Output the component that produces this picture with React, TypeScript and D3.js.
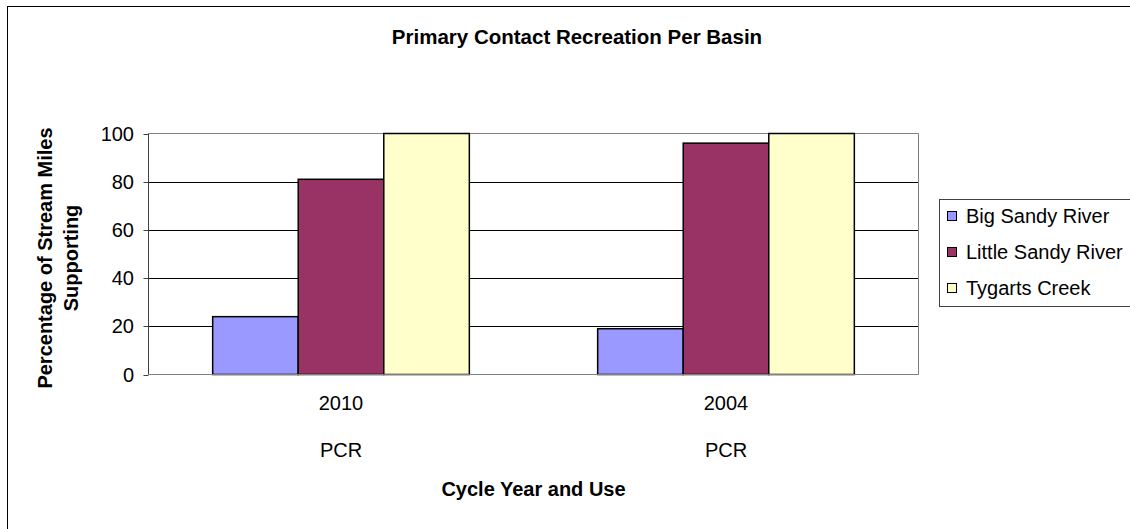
import React from 'react';
import * as d3 from 'd3';

const width = 1130;
const height = 529;

// chart values
const cycles = ['2010', '2004'];
const uses = ['PCR', 'PCR'];
const basins = ['Big Sandy River', 'Little Sandy River', 'Tygarts Creek'];
const bigSandy = [24, 19];
const littleSandy = [81, 96];
const tygarts = [100, 100];
const yTicks = [0, 20, 40, 60, 80, 100];
const colors = ['#9999FF', '#993366', '#FFFFCC'];

const plot = { left: 148.5, right: 918.5, top: 133.5, bottom: 374.5 };
const font = 'Arial, "Liberation Sans", sans-serif';

function App() {
  const series = [bigSandy, littleSandy, tygarts];

  const x0 = d3.scaleBand().domain(cycles).range([plot.left, plot.right]).padding(0);
  const x1 = d3.scaleBand().domain(basins).range([0, x0.bandwidth()]).paddingInner(0).paddingOuter(0.75);
  const y = d3.scaleLinear().domain([0, 100]).range([plot.bottom, plot.top]);
  const color = d3.scaleOrdinal<string, string>().domain(basins).range(colors);

  return (
    <svg width={width} height={height} style={{ position: 'absolute', left: 0, top: 0, background: '#fff' }}>
      {/* outer chart border */}
      <rect x={7.5} y={6.5} width={1200} height={600} fill="#fff" stroke="#000" strokeWidth={1} />

      <text x={577} y={44} textAnchor="middle" fontFamily={font} fontSize={20.5} fontWeight="bold">
        Primary Contact Recreation Per Basin
      </text>

      {/* gridlines */}
      {yTicks.filter(t => t > 0 && t < 100).map(t => (
        <line key={t} x1={plot.left} x2={plot.right} y1={Math.round(y(t)) + 0.5} y2={Math.round(y(t)) + 0.5} stroke="#000" />
      ))}
      {/* plot frame */}
      <line x1={plot.left} x2={plot.right} y1={plot.top} y2={plot.top} stroke="#808080" />
      <line x1={plot.right} x2={plot.right} y1={plot.top} y2={plot.bottom} stroke="#808080" />

      {/* bars */}
      {cycles.map((c, i) => (
        <g key={c} transform={`translate(${x0(c)},0)`}>
          {basins.map((b, j) => (
            <rect
              key={b}
              x={x1(b)}
              y={y(series[j][i])}
              width={x1.bandwidth()}
              height={y(0) - y(series[j][i])}
              fill={color(b)}
              stroke="#000"
              strokeWidth={1.5}
            />
          ))}
        </g>
      ))}

      {/* axes */}
      <line x1={plot.left} x2={plot.right} y1={plot.bottom} y2={plot.bottom} stroke="#808080" />
      <line x1={plot.left} x2={plot.left} y1={plot.top} y2={plot.bottom} stroke="#404040" />
      {yTicks.map(t => (
        <g key={t}>
          <line x1={plot.left - 5} x2={plot.left} y1={Math.round(y(t)) + 0.5} y2={Math.round(y(t)) + 0.5} stroke="#404040" />
          <text x={134} y={y(t)} dy="0.35em" textAnchor="end" fontFamily={font} fontSize={20}>
            {t}
          </text>
        </g>
      ))}

      {cycles.map((c, i) => (
        <g key={c}>
          <text x={(x0(c) as number) + x0.bandwidth() / 2} y={410} textAnchor="middle" fontFamily={font} fontSize={20}>
            {c}
          </text>
          <text x={(x0(c) as number) + x0.bandwidth() / 2} y={457} textAnchor="middle" fontFamily={font} fontSize={20}>
            {uses[i]}
          </text>
        </g>
      ))}

      <text x={(plot.left + plot.right) / 2} y={496} textAnchor="middle" fontFamily={font} fontSize={20} fontWeight="bold">
        Cycle Year and Use
      </text>

      <text transform="translate(51.5,258) rotate(-90)" textAnchor="middle" fontFamily={font} fontSize={20} fontWeight="bold">
        Percentage of Stream Miles
      </text>
      <text transform="translate(78,258) rotate(-90)" textAnchor="middle" fontFamily={font} fontSize={20} fontWeight="bold">
        Supporting
      </text>

      {/* legend */}
      <rect x={939.5} y={199.5} width={250} height={107} fill="#fff" stroke="#404040" />
      {basins.map((b, j) => (
        <g key={b} transform={`translate(0,${216 + j * 36})`}>
          <rect x={947.5} y={-4.5} width={9} height={9} fill={color(b)} stroke="#000" />
          <text x={966} y={0} dy="0.35em" fontFamily={font} fontSize={20}>
            {b}
          </text>
        </g>
      ))}
    </svg>
  );
}

export default App;
